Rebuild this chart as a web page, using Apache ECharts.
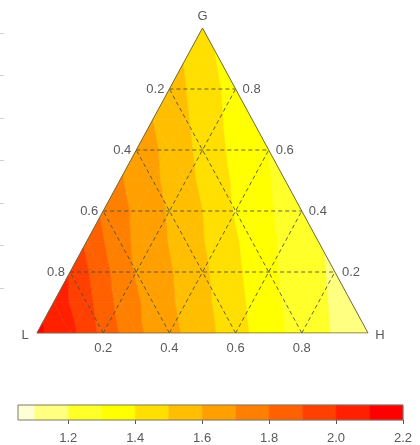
<!DOCTYPE html>
<html>
<head>
<meta charset="utf-8">
<script src="https://cdn.jsdelivr.net/npm/echarts@6/dist/echarts.min.js"></script>
<style>
  html, body { margin: 0; padding: 0; background: #fff; }
  #myChart { width: 420px; height: 445px; }
</style>
</head>
<body>
<div id="myChart"></div>
<script>
// node values of the field, one row per G level (0, 0.1 ... 1), H going 0 -> 1-G
var fieldRows = [
    [2.12, 2.03, 1.87, 1.72, 1.63, 1.54, 1.44, 1.34, 1.26, 1.19, 1.12],
    [2.06, 1.93, 1.77, 1.66, 1.57, 1.48, 1.38, 1.29, 1.22, 1.15],
    [1.99, 1.83, 1.69, 1.61, 1.52, 1.42, 1.32, 1.25, 1.18],
    [1.88, 1.73, 1.64, 1.55, 1.46, 1.36, 1.28, 1.21],
    [1.78, 1.68, 1.59, 1.50, 1.39, 1.31, 1.24],
    [1.71, 1.62, 1.53, 1.43, 1.34, 1.27],
    [1.66, 1.57, 1.47, 1.37, 1.30],
    [1.60, 1.51, 1.41, 1.33],
    [1.55, 1.45, 1.36],
    [1.49, 1.39],
    [1.42]
];
var gridTicks = [0.2, 0.4, 0.6, 0.8];
var levelBreaks = [1.0, 1.1, 1.2, 1.3, 1.4, 1.5, 1.6, 1.7, 1.8, 1.9, 2.0, 2.1, 2.2];
var levelColors = ['#ffffd5', '#ffff80', '#ffff2a', '#ffff00', '#ffdf00', '#ffbf00',
                   '#ff9f00', '#ff8000', '#ff6000', '#ff4000', '#ff2000', '#ff0000'];
var barTicks = [1.2, 1.4, 1.6, 1.8, 2.0, 2.2];
var barStart = 1.05;
var barEnd = 2.2;

// ternary (g, h) -> plane
function toXY(g, h) { return [h + g / 2, g]; }

// small triangles of the node grid
var n = fieldRows.length - 1;
var cells = [];
function node(i, k) {
    var p = toXY(i / n, k / n);
    return [p[0], p[1], fieldRows[i][k]];
}
for (var i = 0; i < n; i++) {
    for (var k = 0; k < n - i; k++) {
        cells.push([].concat(node(i, k), node(i, k + 1), node(i + 1, k)));
        if (k < n - i - 1) {
            cells.push([].concat(node(i, k + 1), node(i + 1, k + 1), node(i + 1, k)));
        }
    }
}

// dashed grid lines
var gridLines = [];
gridTicks.forEach(function (t) {
    gridLines.push([].concat(toXY(t, 0), toXY(t, 1 - t)));      // G = t
    gridLines.push([].concat(toXY(0, t), toXY(1 - t, t)));      // H = t
    gridLines.push([].concat(toXY(0, 1 - t), toXY(1 - t, 0)));  // L = t
});

// tick labels: [x, y, text, dx, dy, align]
var labelData = [];
gridTicks.forEach(function (t) {
    var a = toXY(1 - t, 0);
    labelData.push([a[0], a[1], t.toFixed(1), -5, 0, 'right']);
    var b = toXY(t, 1 - t);
    labelData.push([b[0], b[1], t.toFixed(1), 7, 0, 'left']);
    var c = toXY(0, t);
    labelData.push([c[0], c[1], t.toFixed(1), 0, 15, 'center']);
});
labelData.push([0, 0, 'L', -12, 2, 'center']);
labelData.push([1, 0, 'H', 12, 2, 'center']);
labelData.push([0.5, 1, 'G', 0, -12, 'center']);

var barBlocks = [];
for (var b = 0; b < levelColors.length; b++) {
    barBlocks.push([levelBreaks[b], levelBreaks[b + 1], b]);
}

function clip(pts, level, sign) {
    var out = [];
    for (var i = 0; i < pts.length; i++) {
        var a = pts[i], c = pts[(i + 1) % pts.length];
        var da = sign * (a.v - level), dc = sign * (c.v - level);
        if (da >= 0) out.push(a);
        if ((da >= 0) !== (dc >= 0)) {
            var t = da / (da - dc);
            out.push({x: a.x + t * (c.x - a.x), y: a.y + t * (c.y - a.y), v: level});
        }
    }
    return out;
}

var myChart = echarts.init(document.getElementById('myChart'));
var txt = {fontFamily: 'Liberation Sans, Arial, sans-serif', fontSize: 13, fill: '#5a5a5a'};

var option = {
    animation: false,
    grid: [
        {left: 37, top: 28, width: 331, height: 305},
        {left: 18, top: 405, width: 385, height: 21},
        {left: 4, top: 33, width: 10, height: 255}
    ],
    xAxis: [
        {gridIndex: 0, type: 'value', min: 0, max: 1, show: false},
        {gridIndex: 1, type: 'value', min: barStart, max: barEnd,
            axisLine: {show: false},
            splitLine: {show: false},
            axisTick: {show: true, length: 4, customValues: barTicks, lineStyle: {color: '#555'}},
            axisLabel: {show: true, margin: 12, customValues: barTicks, color: '#5a5a5a', fontSize: 13,
                fontFamily: 'Liberation Sans, Arial, sans-serif',
                formatter: function (v) { return v.toFixed(1); }}
        },
        {gridIndex: 2, type: 'value', min: 0, max: 1, show: false}
    ],
    yAxis: [
        {gridIndex: 0, type: 'value', min: 0, max: 1, show: false},
        {gridIndex: 1, type: 'value', min: 0, max: 1, show: false},
        {gridIndex: 2, type: 'value', min: 0, max: 6, interval: 1,
            axisLine: {show: false}, splitLine: {show: false}, axisLabel: {show: false},
            axisTick: {show: true, length: 4, lineStyle: {color: '#d0d0d0'}}}
    ],
    series: [
        {
            type: 'custom', name: 'field', xAxisIndex: 0, yAxisIndex: 0, silent: true,
            data: cells,
            renderItem: function (params, api) {
                var pts = [0, 1, 2].map(function (j) {
                    return {x: api.value(j * 3), y: api.value(j * 3 + 1), v: api.value(j * 3 + 2)};
                });
                var children = [];
                for (var b = 0; b < levelColors.length; b++) {
                    var poly = clip(clip(pts, levelBreaks[b], 1), levelBreaks[b + 1], -1);
                    if (poly.length < 3) continue;
                    children.push({
                        type: 'polygon',
                        shape: {points: poly.map(function (q) { return api.coord([q.x, q.y]); })},
                        style: {fill: levelColors[b], stroke: levelColors[b], lineWidth: 0.6}
                    });
                }
                return {type: 'group', children: children};
            }
        },
        {
            type: 'custom', name: 'grid', xAxisIndex: 0, yAxisIndex: 0, silent: true,
            data: gridLines,
            renderItem: function (params, api) {
                var p1 = api.coord([api.value(0), api.value(1)]);
                var p2 = api.coord([api.value(2), api.value(3)]);
                return {
                    type: 'line',
                    shape: {x1: p1[0], y1: p1[1], x2: p2[0], y2: p2[1]},
                    style: {stroke: '#4a4a40', lineWidth: 1, lineDash: [4, 3], opacity: 0.85}
                };
            }
        },
        {
            type: 'line', name: 'outline', xAxisIndex: 0, yAxisIndex: 0, silent: true,
            symbol: 'none',
            data: [[0, 0], [1, 0], [0.5, 1], [0, 0]],
            lineStyle: {color: '#6e6a4a', width: 1}
        },
        {
            type: 'custom', name: 'labels', xAxisIndex: 0, yAxisIndex: 0, silent: true,
            data: labelData,
            renderItem: function (params, api) {
                var d = labelData[params.dataIndex];
                var p = api.coord([d[0], d[1]]);
                return {
                    type: 'text',
                    x: p[0] + d[3], y: p[1] + d[4],
                    style: Object.assign({text: d[2], align: d[5], verticalAlign: 'middle'}, txt)
                };
            }
        },
        {
            type: 'custom', name: 'colorbar', xAxisIndex: 1, yAxisIndex: 1, silent: true,
            data: barBlocks,
            renderItem: function (params, api) {
                var lo = Math.max(api.value(0), barStart);
                var p1 = api.coord([lo, 1]);
                var p2 = api.coord([api.value(1), 0]);
                var c = levelColors[api.value(2)];
                return {
                    type: 'rect',
                    shape: {x: p1[0], y: p1[1], width: p2[0] - p1[0], height: p2[1] - p1[1]},
                    style: {fill: c, stroke: c, lineWidth: 0.5}
                };
            }
        },
        {
            type: 'custom', name: 'frame', xAxisIndex: 1, yAxisIndex: 1, silent: true,
            data: [[barStart, barEnd]],
            renderItem: function (params, api) {
                var p1 = api.coord([api.value(0), 1]);
                var p2 = api.coord([api.value(1), 0]);
                return {
                    type: 'rect',
                    shape: {x: p1[0], y: p1[1], width: p2[0] - p1[0], height: p2[1] - p1[1]},
                    style: {fill: 'none', stroke: '#7a7a6a', lineWidth: 1}
                };
            }
        }
    ]
};
myChart.setOption(option);
</script>
</body>
</html>
